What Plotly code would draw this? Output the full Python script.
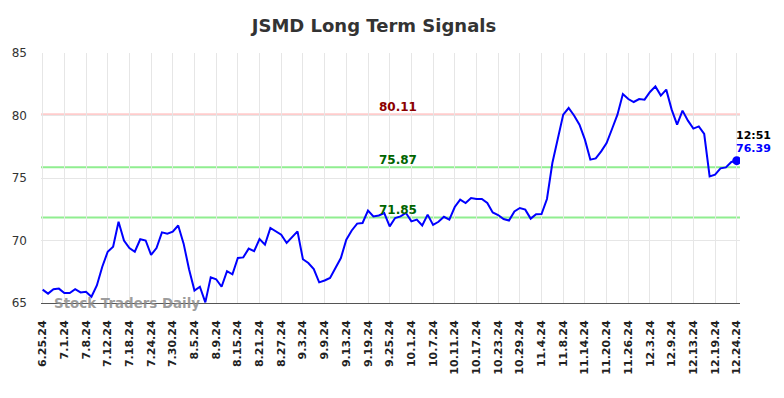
import plotly.graph_objects as go

title_text = "JSMD Long Term Signals"

values = [
    66.07, 65.75, 66.10, 66.15, 65.80, 65.80, 66.10, 65.85, 65.90, 65.50,
    66.40, 67.90, 69.10, 69.50, 71.50, 70.00, 69.40, 69.10, 70.10, 70.00,
    68.85, 69.40, 70.65, 70.55, 70.70, 71.20, 69.75, 67.70, 66.00, 66.30,
    65.05, 67.05, 66.90, 66.30, 67.55, 67.30, 68.60, 68.65, 69.35, 69.15,
    70.12, 69.67, 71.00, 70.73, 70.47, 69.80, 70.28, 70.73, 68.50, 68.20,
    67.72, 66.65, 66.80, 67.00, 67.80, 68.60, 70.07, 70.80, 71.35, 71.40,
    72.40, 71.93, 72.00, 72.20, 71.13, 71.80, 71.93, 72.20, 71.53, 71.67,
    71.20, 72.07, 71.25, 71.50, 71.90, 71.67, 72.68, 73.27, 73.00, 73.40,
    73.32, 73.32, 73.00, 72.25, 72.04, 71.72, 71.60, 72.33, 72.60, 72.47,
    71.75, 72.10, 72.12, 73.32, 76.20, 78.07, 80.07, 80.60, 80.00, 79.27,
    78.07, 76.47, 76.57, 77.13, 77.80, 78.92, 80.07, 81.72, 81.32, 81.08,
    81.32, 81.27, 81.88, 82.33, 81.59, 82.07, 80.47, 79.27, 80.39, 79.59,
    78.95, 79.13, 78.52, 75.13, 75.27, 75.77, 75.85, 76.28, 76.39,
]

tick_labels = [
    "6.25.24", "7.1.24", "7.8.24", "7.12.24", "7.18.24", "7.24.24", "7.30.24",
    "8.5.24", "8.9.24", "8.15.24", "8.21.24", "8.27.24", "9.3.24", "9.9.24",
    "9.13.24", "9.19.24", "9.25.24", "10.1.24", "10.7.24", "10.11.24",
    "10.17.24", "10.23.24", "10.29.24", "11.4.24", "11.8.24", "11.14.24",
    "11.20.24", "11.26.24", "12.3.24", "12.9.24", "12.13.24", "12.19.24",
    "12.24.24",
]
tick_step = 4

resistance_level = 80.11
upper_support = 75.87
lower_support = 71.85
last_time = "12:51"
watermark = "Stock Traders Daily"

x_idx = list(range(len(values)))
tick_vals = [i * tick_step for i in range(len(tick_labels))]

FONT = "DejaVu Sans"

fig = go.Figure()
fig.add_trace(go.Scatter(
    x=x_idx, y=values, mode="lines",
    line=dict(color="#0000ff", width=2),
    hoverinfo="skip", showlegend=False,
))
fig.add_trace(go.Scatter(
    x=[x_idx[-1]], y=[values[-1]], mode="markers",
    marker=dict(color="#0000ff", size=9),
    hoverinfo="skip", showlegend=False,
))

for lvl, col in [(resistance_level, "#ffcccc"), (upper_support, "#90ee90"), (lower_support, "#90ee90")]:
    fig.add_shape(type="line", xref="paper", x0=0, x1=1, yref="y", y0=lvl, y1=lvl,
                  line=dict(color=col, width=2), layer="below")

label_x = 65.5
for lvl, col in [(resistance_level, "#8b0000"), (upper_support, "#006400"), (lower_support, "#006400")]:
    fig.add_annotation(x=label_x, y=lvl, text=f"<b>{lvl:.2f}</b>", showarrow=False,
                       xanchor="center", yanchor="bottom", yshift=-2,
                       font=dict(family=FONT, size=12, color=col))

fig.add_annotation(x=x_idx[-1], y=values[-1], text=f"<b>{values[-1]:.2f}</b>", showarrow=False,
                   xanchor="left", yanchor="bottom", xshift=-3, yshift=4,
                   font=dict(family=FONT, size=11, color="#0000ff"))
fig.add_annotation(x=x_idx[-1], y=values[-1], text=f"<b>{last_time}</b>", showarrow=False,
                   xanchor="left", yanchor="bottom", xshift=-3, yshift=17,
                   font=dict(family=FONT, size=11, color="#000000"))

fig.add_annotation(xref="paper", yref="paper", x=0.0155, y=0, text=f"<b>{watermark}</b>",
                   showarrow=False, xanchor="left", yanchor="middle",
                   font=dict(family=FONT, size=13.4, color="rgba(140,140,140,0.85)"))

fig.update_layout(
    width=784, height=398,
    margin=dict(l=39, r=44, t=53, b=95),
    paper_bgcolor="white", plot_bgcolor="white",
    title=dict(text=f"<b>{title_text}</b>", x=0.477, xanchor="center", y=0.935, yanchor="middle",
               font=dict(family=FONT, size=18, color="#333333")),
    font=dict(family=FONT),
    xaxis=dict(
        range=[-0.3, 128.6], tickmode="array", tickvals=tick_vals, ticktext=tick_labels,
        tickangle=-90, showgrid=True, gridcolor="#e6e6e6", gridwidth=1,
        tickfont=dict(family=FONT, size=11, color="#222222", weight="bold"),
        showline=True, linecolor="#555555", linewidth=1, ticks="", ticklabelstandoff=12,
        zeroline=False,
    ),
    yaxis=dict(
        range=[65, 85], tickvals=[65, 70, 75, 80, 85], showgrid=True, gridcolor="#e6e6e6",
        tickfont=dict(family=FONT, size=12, color="#333333"), ticks="", zeroline=False,
        ticklabelstandoff=13,
    ),
)

fig.write_html("out.html", config={"displayModeBar": False},
               post_script="document.body.style.margin='0';document.body.style.padding='0';")
